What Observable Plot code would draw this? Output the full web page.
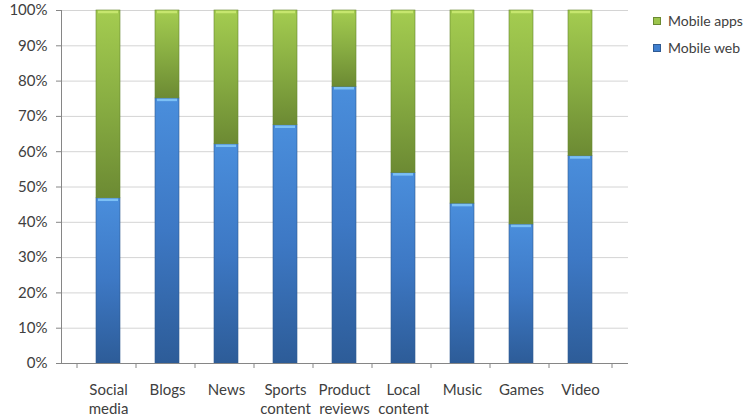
<!DOCTYPE html>
<html>
<head>
<meta charset="utf-8">
<script src="https://cdn.jsdelivr.net/npm/d3@7"></script>
<script src="https://cdn.jsdelivr.net/npm/@observablehq/plot@0.6"></script>
<style>
  html, body { margin: 0; padding: 0; background: #fff; overflow: hidden; }
  #wrap { position: relative; width: 746px; height: 419px; overflow: hidden; font-family: Lato, "Open Sans", sans-serif; }
  .legend { position: absolute; left: 653px; font-size: 14px; line-height: 18px; color: #404040; display: flex; align-items: center; white-space: nowrap; }
  .legend .sw { width: 6px; height: 6px; margin-right: 7px; border: 1px solid; }
</style>
</head>
<body>
<div id="wrap"></div>
<script>
const categories = ["Social\nmedia", "Blogs", "News", "Sports\ncontent", "Product\nreviews", "Local\ncontent", "Music", "Games", "Video"];
const mobileWeb  = [0.468, 0.751, 0.621, 0.675, 0.784, 0.540, 0.453, 0.394, 0.588];
const mobileApps = [0.532, 0.249, 0.379, 0.325, 0.216, 0.460, 0.547, 0.606, 0.412];
const yTicks = [0, 0.1, 0.2, 0.3, 0.4, 0.5, 0.6, 0.7, 0.8, 0.9, 1.0];
const seriesNames = ["Mobile apps", "Mobile web"];

const data = categories.map((c, i) => ({
  cat: c,
  web0: 0, web1: mobileWeb[i],
  app0: mobileWeb[i], app1: mobileWeb[i] + mobileApps[i]
}));

const W = 746, H = 419, mL = 61, mR = 118, mT = 10, mB = 56;
const half = (W - mL - mR) / categories.length / 2;
const textColor = "#404040";
const axisColor = "#868686";

const chart = Plot.plot({
  width: W, height: H,
  marginLeft: mL, marginRight: mR, marginTop: mT, marginBottom: mB,
  style: { fontFamily: "Lato, 'Open Sans', sans-serif", fontSize: "15px", color: textColor, background: "#fff" },
  x: { domain: categories, padding: 0.59, label: null },
  y: { domain: [0, 1], label: null },
  marks: [
    Plot.gridY(yTicks, { stroke: "#d4d4d4", strokeOpacity: 1, strokeWidth: 1 }),
    Plot.barY(data, { x: "cat", y1: "web0", y2: "web1", fill: "url(#gBlue)", stroke: "#2f5a92", strokeWidth: 0.6 }),
    Plot.barY(data, { x: "cat", y1: "app0", y2: "app1", fill: "url(#gGreen)", stroke: "#67862f", strokeWidth: 0.6 }),
    Plot.tickY(data, { x: "cat", y: "web1", dy: 1.5, stroke: "#7cc0f5", strokeWidth: 2.5, insetLeft: 2, insetRight: 2 }),
    Plot.tickY(data, { x: "cat", y: "app1", dy: 1.5, stroke: "#c6e66e", strokeWidth: 2.5, insetLeft: 2, insetRight: 2 }),
    Plot.axisY(yTicks, { tickSize: 5, tickPadding: 9, stroke: axisColor, tickFormat: d3.format(".0%"), fill: textColor, fontSize: 15 }),
    Plot.frame({ anchor: "left", stroke: axisColor }),
    Plot.ruleY([0], { stroke: axisColor }),
    Plot.axisX({ tickSize: 0, tickPadding: 18, lineHeight: 1.27, fill: textColor, fontSize: 15 }),
    Plot.axisX({ tickSize: 5, dx: -half, stroke: axisColor, tickFormat: () => "" }),
    Plot.axisX([categories[categories.length - 1]], { tickSize: 5, dx: half, stroke: axisColor, tickFormat: () => "" })
  ]
});

const ns = "http://www.w3.org/2000/svg";
const defs = document.createElementNS(ns, "defs");
defs.innerHTML = `
  <linearGradient id="gBlue" x1="0" y1="0" x2="0" y2="1">
    <stop offset="0" stop-color="#4a8edc"/>
    <stop offset="0.5" stop-color="#3d78c4"/>
    <stop offset="1" stop-color="#2d5c98"/>
  </linearGradient>
  <linearGradient id="gGreen" x1="0" y1="0" x2="0" y2="1">
    <stop offset="0" stop-color="#a4cc50"/>
    <stop offset="0.5" stop-color="#88ad42"/>
    <stop offset="1" stop-color="#6c8a33"/>
  </linearGradient>`;
chart.insertBefore(defs, chart.firstChild);

const wrap = document.getElementById("wrap");
wrap.appendChild(chart);

const legendColors = { "Mobile apps": ["#9cc54c", "#6a8a32"], "Mobile web": ["#3f7fcf", "#2f5a92"] };
const legendY = [12, 39];
seriesNames.forEach((name, i) => {
  const row = document.createElement("div");
  row.className = "legend";
  row.style.top = legendY[i] + "px";
  const sw = document.createElement("span");
  sw.className = "sw";
  sw.style.background = legendColors[name][0];
  sw.style.borderColor = legendColors[name][1];
  const t = document.createElement("span");
  t.textContent = name;
  row.appendChild(sw); row.appendChild(t);
  wrap.appendChild(row);
});
</script>
</body>
</html>
